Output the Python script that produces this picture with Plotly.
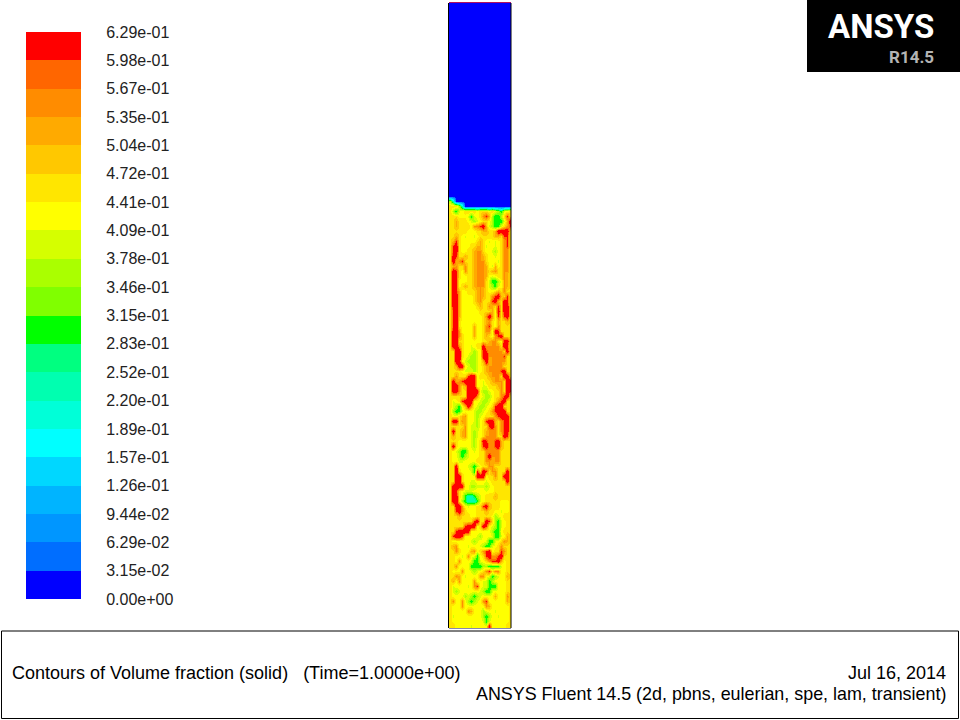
import plotly.graph_objects as go

W, H = 960, 720

# Legend: contour level labels, bottom to top
level_labels = ["0.00e+00", "3.15e-02", "6.29e-02", "9.44e-02", "1.26e-01", "1.57e-01", "1.89e-01",
                "2.20e-01", "2.52e-01", "2.83e-01", "3.15e-01", "3.46e-01", "3.78e-01", "4.09e-01",
                "4.41e-01", "4.72e-01", "5.04e-01", "5.35e-01", "5.67e-01", "5.98e-01", "6.29e-01"]
band_colors = ["#0000ff", "#006eff", "#0096ff", "#00b4ff", "#00d7ff", "#00ffff", "#00ffd8", "#00ffb0",
               "#00ff80", "#00ff00", "#80ff00", "#aaff00", "#d5ff00", "#ffff00", "#ffe600", "#ffc800",
               "#ffaa00", "#ff8c00", "#ff6600", "#ff0000"]

# Band read for each letter of the field rows
letter_band = {"B": 0, "T": 6.5, "G": 8.5, "L": 11, "l": 12.3, "y": 13, "Y": 14.3, "o": 15.5, "O": 16.5, "r": 18.5, "R": 21}

# Volume fraction field, bed part, top to bottom
bed_rows = [
    "LTBBBBBBBBBBBBBBBBBBB", "YYYLTBBBBBBBBBBBBBBBB", "YLGlyYYYYyYYYyYlLGlyY", "YYYyyylGlyYOroLGGLYrY",
    "YYoYYYylLlyYYyLGGGloR", "YYoYYYYyOOrRolLGGlYOr", "YYYYYYyyyYYooYYoRRRRY", "YYoYylyylyYYYYYooYrrY",
    "YorYyyyyyYoYylylyYOrY", "YrRYyyyYYooYlyylyYOrY", "YrRYyyYYoOOYyylLyYOOY", "YRrYYoYYoOOoYyylyYOOY",
    "YRoOrYYYoOOOYyyylYOOY", "YoOYYOYYoOOOoyloyYOOY", "YRrYyOYYoOOOoYoOYYOOY", "YRrYyyYYoOOOoylyYYOoY",
    "YRryyyYYoOOOYlGGLyOoY", "YRryYoYYoOOOYlLGlyOoY", "YRroyyYYYoOoYyyYoYOYY", "YRRoyyyyYoOoYYOrRoYrY",
    "YRRoyyyyYoOYYYrRoYRrY", "YRRoyyyyyYoYYOoYrYRRY", "YrRoyyyyyyYYYYoyRYRRY", "YrRoyyyyyyyYOROyrYrRY",
    "YrRYyyyyyyyYoOYyoYYoY", "YrRYyyyyoyyYOrYyOYYYY", "YRROyyyyoyyYOOyRrYYYY", "YRROYyyyoyyYoYyOrRYYY",
    "YRRYYyyyyyyYYoOOYyRRY", "YRROYyylyYYROOOOOYRrY", "YYRRYyylLlyRrOOOOOYRY", "YYRRYylLLlyRROOOOOrYY",
    "YYRRylLLLlyoRoOOOOOYY", "YYoRRylLLlyYoOOOOOYYY", "YYYYylllLlyYoOOOOrRYY", "YYOYYYrRRyYYYoOOOYRRY",
    "YRoOrRRRRyylYYoOOOYRR", "YRROYoRRRyyllYYYoOYRR", "YRROYYRRRRyLLlyYYOYRr", "YYYYYYRRROylLLyYYOrRY",
    "YlyYrRRRyylLLlyYOrRYY", "YlLGyoROylLLlyYrRRYYY", "YLGGlyyylLLlyYOrRRRYY", "YyyYoOyylLlyYYYOrRRRY",
    "YRRYOoyylLyYrRRoYOrRY", "YYYYYOyllLyYYrROYOrRY", "YRYYoOylLlyYoOOOYOrRY", "YoYYoOylLlyYOOOOYYRrY",
    "YYYyyyylLyYRrOOrRoYYY", "YRYyyyylLyYrROOrRoYYY", "YylLGGlylyYYOOOOOYYYY", "YyyLGLlyyyYYOROOOYYYY",
    "YyyllyyyyYYYOOoOOYYYY", "YYRyyylLGLyYYOOYYYYYY", "YYRYyyylGrYRrYOOYYYRY", "YYRRYyyyyRRRyYYOYYRRY",
    "YYRRYyyllyyylyYYYYYRY", "YRRRRyyLLlllLlyYYYYYY", "YRrYylllyyyylyyYYYYYY", "YRRYlGTTGLlyYYYoYYYYY",
    "YRRYLGTTTGlyYYYYYyyyY", "YYRROylyyYYrRoYYYyyyY", "YYrROYyyyYYYoYYyylyyY", "YYYoYYYyyYYYYYyLlyYYY",
    "YYYYYYYYrRYYRrYLGlyYY", "YYYYYrRRRyYRrylLGlyYY", "YYrRRRRyyyyyyyLGGyYYY", "YrRRryyyylLyyylGGlyoY",
    "YyyyyyylLlyylGGlyYOoY", "YoOyyylyyylLGGlyYOYYY", "YYOYyyyoOyYOrRyYYrOYY", "YYyylyOylGyYrROOrRYYY",
    "YYyOyyylGGlyYOrrRoyYY", "YYOyyyyGGGGLLGGGGlyYY", "YyyyOyylLlyYOrYOOyyYY", "YYOoylyyyyOOylGLlyyoY",
    "YoyOyyyyOyyllGLyyyyYY", "YlyyyylyOryllGGGyyyYY", "YlLlyyyyyylLGGlyyyyYY", "YyyyyLlLGLlyyyyoyyyOY",
    "YOyyOyLGLlyOryyyyyyoY", "YyyyOyyyyyyyOoyyyyyyY", "YyyyyyOoyyyLlyylyyyyY", "YlyyyyyyyyyLGLyylyyyY",
    "YyyyyyyyyyylGlyyyyyyY", "YYyyyyylyyyyyRyyyyyYY",
]
air_row_count = 39
air_row = "B" * 21

footer_left = "Contours of Volume fraction (solid)   (Time=1.0000e+00)"
footer_date = "Jul 16, 2014"
footer_solver = "ANSYS Fluent 14.5 (2d, pbns, eulerian, spe, lam, transient)"

# Stepped colour scale shared by legend and field
n = len(band_colors)
stepped = []
for i, c in enumerate(band_colors):
    stepped += [[i / n, c], [(i + 1) / n, c]]

rows = [air_row] * air_row_count + [r.ljust(21, "Y")[:21] for r in bed_rows]
field = [[letter_band[ch] + 0.5 for ch in r] for r in rows]

fig = go.Figure()

fig.add_trace(go.Heatmap(
    z=field, x=list(range(21)), y=list(range(len(rows))),
    zmin=0, zmax=n, colorscale=stepped, showscale=False, zsmooth="best",
    hoverinfo="skip", xaxis="x", yaxis="y"))

fig.add_trace(go.Heatmap(
    z=[[i + 0.5] for i in range(n)], x=[0], y=[i + 0.5 for i in range(n)],
    zmin=0, zmax=n, colorscale=stepped, showscale=False,
    hoverinfo="skip", xaxis="x2", yaxis="y2"))

def px(x):
    return x / W

def py(y):
    return 1 - y / H

shapes = [
    dict(type="rect", xref="paper", yref="paper", x0=px(1.5), x1=px(958.5), y0=py(718.5), y1=py(631),
         line=dict(color="black", width=1), fillcolor="white", layer="below"),
    dict(type="rect", xref="paper", yref="paper", x0=px(807), x1=px(960), y0=py(72), y1=py(0),
         line=dict(width=0), fillcolor="black", layer="below"),
    dict(type="line", xref="paper", yref="paper", x0=px(449), x1=px(511), y0=py(2.5), y1=py(2.5),
         line=dict(color="#b01060", width=1)),
    dict(type="line", xref="paper", yref="paper", x0=px(449), x1=px(511), y0=py(628.5), y1=py(628.5),
         line=dict(color="#8888aa", width=1)),
    dict(type="line", xref="paper", yref="paper", x0=px(448.5), x1=px(448.5), y0=py(3), y1=py(628),
         line=dict(color="black", width=1)),
    dict(type="line", xref="paper", yref="paper", x0=px(511), x1=px(511), y0=py(3), y1=py(628),
         line=dict(color="black", width=1)),
]

def note(text, x, y, size, color="black", anchor="left", family="Liberation Sans"):
    return dict(text=text, x=px(x), y=py(y), xref="paper", yref="paper", showarrow=False,
                xanchor=anchor, yanchor="middle", font=dict(size=size, color=color, family=family))

annotations = [
    note(footer_left.replace("   ", "&nbsp;&nbsp;&nbsp;"), 10, 673, 18),
    note(footer_date, 948, 673, 18, anchor="right"),
    note(footer_solver, 948, 694, 17.9, anchor="right"),
    note("<b>ANSYS</b>", 881, 27, 33, color="white", anchor="center", family="Roboto"),
    note("<b>R14.5</b>", 936, 57, 17, color="#b4b4b4", anchor="right", family="Roboto"),
]

fig.update_layout(
    width=W, height=H, margin=dict(l=0, r=0, t=0, b=0), autosize=False,
    paper_bgcolor="white", plot_bgcolor="white", showlegend=False,
    shapes=shapes, annotations=annotations,
    xaxis=dict(domain=[px(449), px(511)], range=[-0.5, 20.5], visible=False, automargin=False),
    yaxis=dict(domain=[py(628), py(3)], range=[len(rows) - 0.5, -0.5], visible=False, automargin=False),
    xaxis2=dict(domain=[px(26), px(81)], range=[-0.5, 0.5], visible=False, anchor="y2", automargin=False),
    yaxis2=dict(domain=[py(599), py(32)], range=[0, n], anchor="x2", side="right", automargin=False,
                tickvals=list(range(n + 1)), ticktext=level_labels,
                ticks="outside", ticklen=21, tickcolor="white", tickwidth=1,
                showgrid=False, zeroline=False, showline=False,
                tickfont=dict(family="Liberation Sans", size=16, color="#222222")),
)

fig.write_html("out.html", default_width="960px", default_height="720px",
               config=dict(displayModeBar=False),
               post_script="document.body.style.margin='0';document.documentElement.style.overflow='hidden';")
